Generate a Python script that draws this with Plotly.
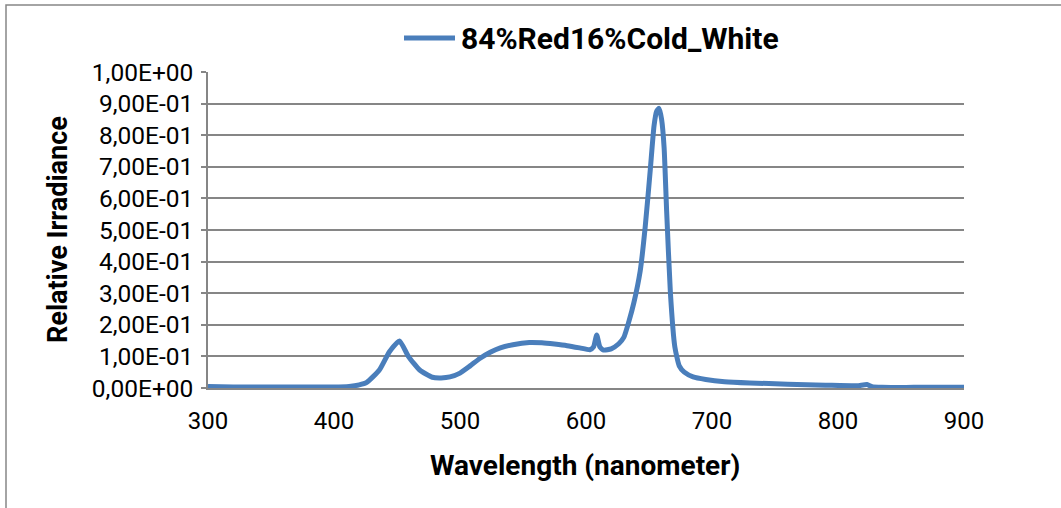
import plotly.graph_objects as go

wavelength = [300, 320, 340, 360, 380, 400, 412, 420, 426, 436, 444, 452, 459, 468, 478, 485,
              492, 500, 508, 516, 524, 532, 542, 555, 565, 575, 585, 595, 603, 606, 608.5,
              611, 614, 620, 626, 630, 634, 638, 643, 647, 651, 654, 656, 658, 660, 662, 664,
              667, 670.5, 674, 678, 685, 695, 710, 730, 760, 790, 815, 823, 827, 835, 860, 900]
irradiance = [0.005, 0.003, 0.003, 0.003, 0.003, 0.003, 0.005, 0.010, 0.018, 0.057, 0.115,
              0.149, 0.100, 0.057, 0.034, 0.032, 0.035, 0.047, 0.070, 0.094, 0.113, 0.127,
              0.137, 0.144, 0.143, 0.139, 0.134, 0.127, 0.121, 0.130, 0.168, 0.130, 0.120,
              0.124, 0.140, 0.160, 0.210, 0.270, 0.370, 0.510, 0.690, 0.830, 0.875, 0.885,
              0.850, 0.760, 0.560, 0.300, 0.130, 0.070, 0.050, 0.035, 0.027, 0.020, 0.016,
              0.012, 0.009, 0.007, 0.011, 0.004, 0.002, 0.002, 0.002]

series_name = "84%Red16%Cold_White"
y_ticks = [0, 0.1, 0.2, 0.3, 0.4, 0.5, 0.6, 0.7, 0.8, 0.9, 1.0]
y_tick_labels = ["0,00E+00", "1,00E-01", "2,00E-01", "3,00E-01", "4,00E-01", "5,00E-01",
                 "6,00E-01", "7,00E-01", "8,00E-01", "9,00E-01", "1,00E+00"]
x_ticks = [300, 400, 500, 600, 700, 800, 900]

FONT = "Roboto, Noto Sans, sans-serif"
LINE_COLOR = "#4a7ebb"
GRID = "#868686"

# plot area in pixels
L, R, T, B = 208, 964, 72, 388
W, H = R - L, B - T


def px(xp):
    return (xp - L) / W


def py(yp):
    return (B - yp) / H


fig = go.Figure()
fig.add_trace(go.Scatter(
    x=wavelength, y=irradiance, mode="lines", name=series_name, showlegend=False,
    line=dict(color=LINE_COLOR, width=5, shape="spline", smoothing=0.5),
))

fig.update_layout(
    width=1061, height=508,
    margin=dict(l=L, r=1061 - R, t=T, b=508 - B, autoexpand=False),
    paper_bgcolor="white", plot_bgcolor="white",
    font=dict(family=FONT, color="black", size=24),
    xaxis=dict(range=[300, 900], tickvals=x_ticks, showgrid=False, zeroline=False,
               showline=True, linecolor=GRID, linewidth=1.5,
               ticks="", tickfont=dict(size=24), ticklabelstandoff=10),
    yaxis=dict(range=[0, 1.0], tickvals=y_ticks, ticktext=y_tick_labels,
               showgrid=True, gridcolor=GRID, gridwidth=1.5, zeroline=False,
               showline=True, linecolor=GRID, linewidth=1.5,
               ticks="outside", ticklen=5, tickcolor=GRID, tickwidth=1.5,
               tickfont=dict(size=24.5), ticklabelstandoff=3),
    shapes=[
        dict(type="rect", xref="paper", yref="paper",
             x0=px(6), x1=1.3, y0=-0.6, y1=py(5),
             line=dict(color=GRID, width=1.5), layer="below"),
        dict(type="line", xref="paper", yref="paper",
             x0=px(404), x1=px(455), y0=py(38), y1=py(38),
             line=dict(color=LINE_COLOR, width=5)),
    ],
    annotations=[
        dict(text="<b>" + series_name + "</b>", xref="paper", yref="paper",
             x=px(459), y=py(38), xanchor="left", yanchor="middle", showarrow=False,
             font=dict(size=30, family=FONT)),
        dict(text="<b>Wavelength (nanometer)</b>", xref="paper", yref="paper",
             x=px(585), y=py(465), xanchor="center", yanchor="middle", showarrow=False,
             font=dict(size=28, family=FONT)),
        dict(text="<b>Relative Irradiance</b>", xref="paper", yref="paper",
             x=px(58), y=py(230), xanchor="center", yanchor="middle", showarrow=False,
             textangle=-90, font=dict(size=27, family=FONT)),
    ],
)

fig.write_html("out.html")
